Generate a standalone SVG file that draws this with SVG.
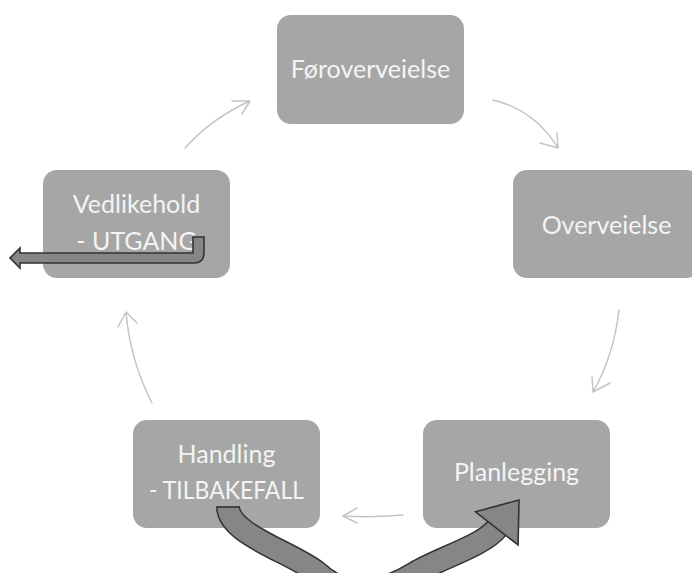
<svg xmlns="http://www.w3.org/2000/svg" width="692" height="573" viewBox="0 0 692 573">
<defs>
<style>
.box{fill:#a6a6a6;}
.lbl{fill:#f4f4f4;font-family:Lato,"Open Sans",sans-serif;font-size:25px;text-anchor:middle;}
.con{fill:none;stroke:#c4c4c4;stroke-width:1.5;stroke-linecap:round;stroke-linejoin:round;}
.blk{fill:#868686;stroke:#333333;stroke-width:1.6;stroke-linejoin:miter;}
</style>
</defs>
<rect width="692" height="573" fill="#ffffff"/>
<g id="connectors">
<path class="con" d="M185,148 Q212,118 250,101 M232,101 L250,101 L242,114"/>
<path class="con" d="M493,100 Q535,110 558,148 M540,143 L558,148 L557,133"/>
<path class="con" d="M619,310 Q614,355 593,392 M592,377 L593,392 L610,383"/>
<path class="con" d="M403,515 Q370,518 343,516 M357,508 L343,516 L357,523"/>
<path class="con" d="M152,403 Q130,360 126,312 M118,327 L126,312 L137,323"/>
</g>
<g id="n1">
<rect class="box" x="277" y="15" width="187" height="109" rx="14"/>
<text class="lbl" x="370.5" y="78">Føroverveielse</text>
</g>
<g id="n2">
<rect class="box" x="513" y="170" width="187" height="108" rx="14"/>
<text class="lbl" x="606.5" y="234">Overveielse</text>
</g>
<g id="n3">
<rect class="box" x="423" y="420" width="187" height="108" rx="14"/>
<text class="lbl" x="516.5" y="481">Planlegging</text>
</g>
<g id="n4">
<rect class="box" x="133" y="420" width="187" height="108" rx="14"/>
<text class="lbl" x="226.5" y="463">Handling</text>
<text class="lbl" x="226.5" y="499" textLength="155" lengthAdjust="spacingAndGlyphs">- TILBAKEFALL</text>
</g>
<g id="n5">
<rect class="box" x="43" y="170" width="187" height="108" rx="14"/>
<text class="lbl" x="136.5" y="213">Vedlikehold</text>
<text class="lbl" x="136.5" y="250">- UTGANG</text>
</g>
<g id="exit-arrows">
<path class="blk" d="M193,237 L204,237 L204,253 Q204,263 194,263 L20,263 L20,268 L10,258 L20,248 L20,253 L193,253 Z"/>
<path d="M228,507 C229,535 292,552 318,573 C349,602 387,590 415,573 C439,558.4 483.2,545.7 496.8,528.4" fill="none" stroke="#333333" stroke-width="24"/>
<path d="M228,507 C229,535 292,552 318,573 C349,602 387,590 415,573 C439,558.4 483.2,545.7 496.8,528.4" fill="none" stroke="#868686" stroke-width="21"/>
<line x1="216" y1="507" x2="240" y2="507" stroke="#333333" stroke-width="1.6"/>
<path class="blk" d="M475.5,511.8 L519,500 L518.1,545 Z"/>
</g>
</svg>
